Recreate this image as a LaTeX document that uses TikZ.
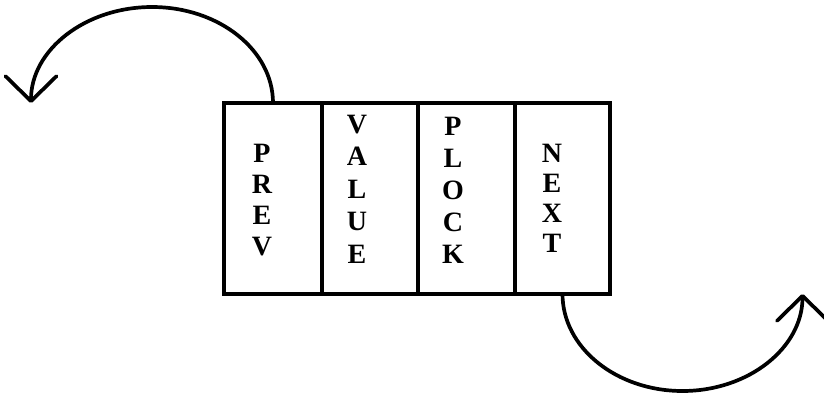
\documentclass[tikz,border=0pt]{standalone}
\usepackage{fontspec}
\setmainfont{Liberation Serif}
\usetikzlibrary{arrows.meta}
\begin{document}
\begin{tikzpicture}[x=1pt,y=-1pt,
  field/.style={draw, line width=3.5pt, inner sep=0pt, outer sep=0pt,
    minimum height=191pt},
  letters/.style={align=center, inner sep=0pt,
    font=\fontsize{28}{31}\selectfont\bfseries},
  link/.style={line width=3.7pt, line join=round, line cap=round,
    -{Straight Barb[length=25pt,width=51pt,line cap=round,line join=round]}}]
  \useasboundingbox (0,0) rectangle (824,399);

  % the four fields of one record
  \node[field, minimum width=98pt] (prev)  at (273,198.5) {};
  \node[field, minimum width=96pt] (value) at (370,198.5) {};
  \node[field, minimum width=97pt] (plock) at (466.5,198.5) {};
  \node[field, minimum width=95pt] (next)  at (562.5,198.5) {};

  % field names, one letter per line
  \node[letters] (tprev)  at (262,200) {P\\R\\E\\V};
  \node[letters, font=\fontsize{28}{32.5}\selectfont\bfseries] (tvalue) at (357,189) {V\\A\\L\\U\\E};
  \node[letters, font=\fontsize{28}{32}\selectfont\bfseries] (tplock) at (453,190) {P\\L\\O\\C\\K};
  \node[letters, font=\fontsize{28}{30}\selectfont\bfseries] (tnext)  at (552,198) {N\\E\\X\\T};

  % back and forward links
  \draw[link] (prev.north) arc[start angle=0, end angle=180, x radius=121pt, y radius=96pt];
  \draw[link] (next.south) arc[start angle=180, end angle=360, x radius=120pt, y radius=97pt];
\end{tikzpicture}
\end{document}
